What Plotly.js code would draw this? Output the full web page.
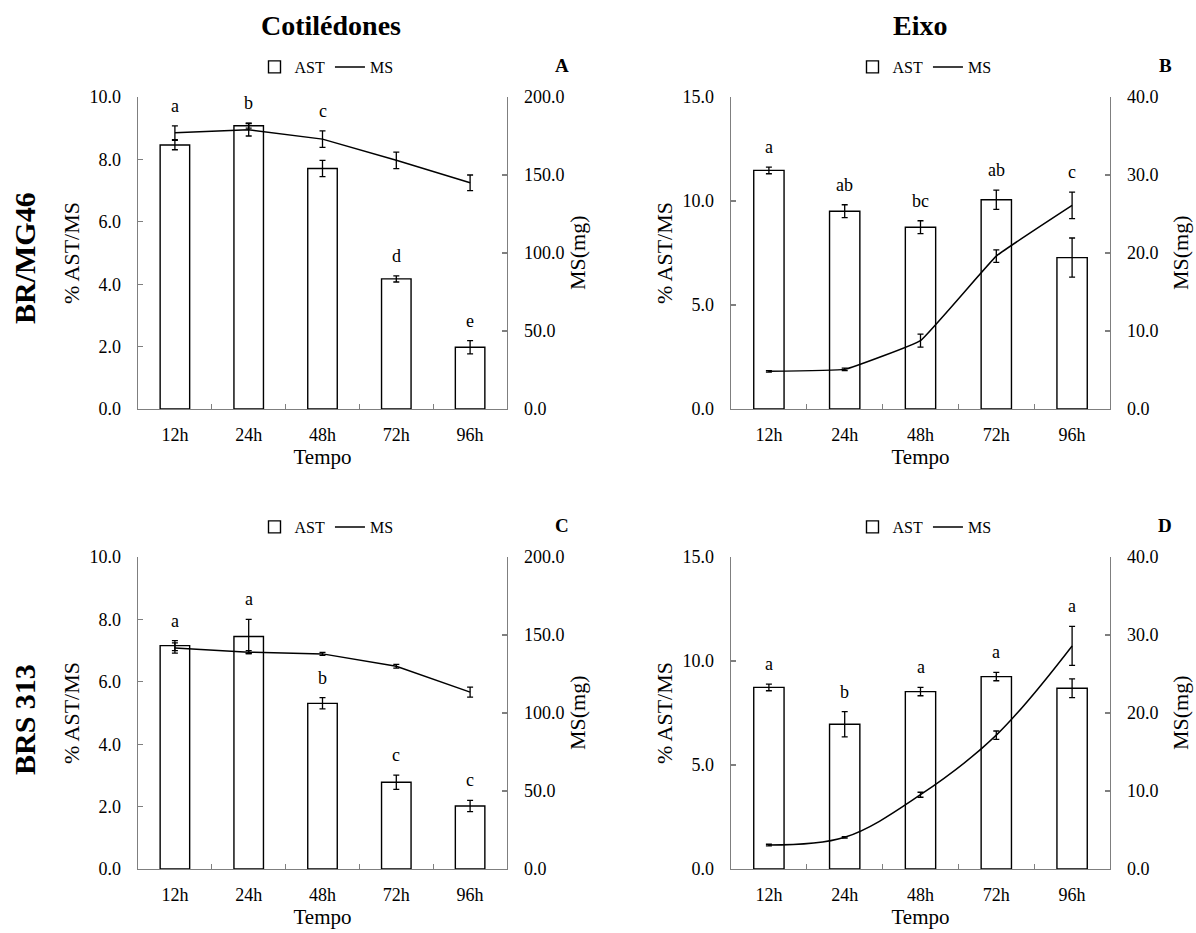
<!DOCTYPE html>
<html>
<head>
<meta charset="utf-8">
<script src="https://cdn.plot.ly/plotly-3.0.1.min.js"></script>
<style>html,body{margin:0;padding:0;background:#fff}#chart{width:1196px;height:933px}</style>
</head>
<body>
<div id="chart"></div>
<script>
// ---------- data ----------
const times = ['12h', '24h', '48h', '72h', '96h'];

// Panel A: Cotilédones, BR/MG46
const astA = [8.46, 9.08, 7.71, 4.17, 1.98];
const astErrA = [0.15, 0.08, 0.26, 0.10, 0.21];
const msA = [177.1, 179.0, 173.0, 159.4, 145.0];
const msErrA = [4.4, 4.0, 5.3, 5.3, 5.0];
const lettersA = ['a', 'b', 'c', 'd', 'e'];
const letterOnA = ['MS', 'AST', 'MS', 'AST', 'AST'];   // series the letter is written above

// Panel B: Eixo, BR/MG46
const astB = [11.47, 9.51, 8.74, 10.06, 7.28];
const astErrB = [0.16, 0.31, 0.31, 0.46, 0.94];
const msB = [4.83, 5.08, 8.77, 19.6, 26.1];
const msErrB = [0.10, 0.15, 0.83, 0.81, 1.7];
const lettersB = ['a', 'ab', 'bc', 'ab', 'c'];
const letterOnB = ['AST', 'AST', 'AST', 'AST', 'MS'];

// Panel C: Cotilédones, BRS 313
const astC = [7.16, 7.45, 5.31, 2.78, 2.02];
const astErrC = [0.16, 0.55, 0.18, 0.23, 0.18];
const msC = [141.7, 139.0, 137.9, 130.0, 113.4];
const msErrC = [3.3, 1.0, 1.0, 1.2, 3.2];
const lettersC = ['a', 'a', 'b', 'c', 'c'];
const letterOnC = ['AST', 'AST', 'AST', 'AST', 'AST'];

// Panel D: Eixo, BRS 313
const astD = [8.73, 6.96, 8.53, 9.25, 8.69];
const astErrD = [0.16, 0.61, 0.20, 0.20, 0.45];
const msD = [3.07, 4.06, 9.52, 17.16, 28.6];
const msErrD = [0.10, 0.10, 0.32, 0.53, 2.5];
const lettersD = ['a', 'b', 'a', 'a', 'a'];
const letterOnD = ['AST', 'AST', 'AST', 'AST', 'MS'];

const columnTitles = ['Cotilédones', 'Eixo'];
const rowTitles = ['BR/MG46', 'BRS 313'];
const panelLabels = ['A', 'B', 'C', 'D'];

// ---------- layout helpers ----------
const W = 1196, H = 933;
const FONT = 'Liberation Serif, Times New Roman, serif';
const AXC = '#7f7f7f';
const px = v => v / W;
const py = v => 1 - v / H;

const panels = [
  {ast: astA, astErr: astErrA, ms: msA, msErr: msErrA, letters: lettersA, on: letterOnA, lmax: 10, ldt: 2, rmax: 200, rdt: 50, x0: 138, x1: 507, y0: 97, y1: 409, shape: 'linear'},
  {ast: astB, astErr: astErrB, ms: msB, msErr: msErrB, letters: lettersB, on: letterOnB, lmax: 15, ldt: 5, rmax: 40, rdt: 10, x0: 731, x1: 1110, y0: 97, y1: 409, shape: 'spline', smooth: 0.25},
  {ast: astC, astErr: astErrC, ms: msC, msErr: msErrC, letters: lettersC, on: letterOnC, lmax: 10, ldt: 2, rmax: 200, rdt: 50, x0: 138, x1: 507, y0: 557, y1: 869, shape: 'linear'},
  {ast: astD, astErr: astErrD, ms: msD, msErr: msErrD, letters: lettersD, on: letterOnD, lmax: 15, ldt: 5, rmax: 40, rdt: 10, x0: 731, x1: 1110, y0: 557, y1: 869, shape: 'spline', smooth: 1}
];

const data = [];
const layout = {
  width: W, height: H,
  margin: {l: 0, r: 0, t: 0, b: 0},
  paper_bgcolor: '#fff', plot_bgcolor: 'rgba(0,0,0,0)',
  font: {family: FONT, color: '#000', size: 18},
  barmode: 'group',
  annotations: [],
  showlegend: true
};

panels.forEach((p, i) => {
  const n = i + 1;
  const xa = n === 1 ? 'x' : 'x' + n;
  const yl = 'y' + (2 * n - 1 === 1 ? '' : (2 * n - 1));
  const yr = 'y' + (2 * n);
  const xKey = n === 1 ? 'xaxis' : 'xaxis' + n;
  const ylKey = 'yaxis' + (2 * n - 1 === 1 ? '' : (2 * n - 1));
  const yrKey = 'yaxis' + (2 * n);
  const legKey = n === 1 ? 'legend' : 'legend' + n;

  data.push({
    type: 'bar', name: 'AST', x: times, y: p.ast,
    xaxis: xa, yaxis: yl, legend: legKey,
    width: 0.4,
    marker: {color: '#ffffff', line: {color: '#000', width: 1.4}},
    error_y: {type: 'data', array: p.astErr, visible: true, color: '#000', thickness: 1.3, width: 3}
  });
  data.push({
    type: 'scatter', mode: 'lines', name: 'MS', x: times, y: p.ms,
    xaxis: xa, yaxis: yr, legend: legKey,
    line: {color: '#000', width: 1.5, shape: p.shape, smoothing: p.smooth || 1},
    error_y: {type: 'data', array: p.msErr, visible: true, color: '#000', thickness: 1.3, width: 3}
  });

  const xd = [px(p.x0), px(p.x1)];
  const yd = [py(p.y1), py(p.y0)];

  layout[xKey] = {
    domain: xd, anchor: yl, type: 'category',
    showline: true, linecolor: AXC, linewidth: 1.3,
    ticks: 'inside', tickson: 'boundaries', ticklen: 5, tickcolor: AXC, tickwidth: 1.3,
    showgrid: false, zeroline: false,
    tickfont: {family: FONT, size: 18, color: '#000'},
    ticklabelstandoff: 9,
    title: {text: 'Tempo', font: {family: FONT, size: 21, color: '#000'}, standoff: 4},
    range: [-0.5, 4.5]
  };
  layout[ylKey] = {
    domain: yd, anchor: xa, range: [0, p.lmax], dtick: p.ldt, tick0: 0,
    tickformat: '.1f',
    showline: true, linecolor: AXC, linewidth: 1.3,
    ticks: 'inside', ticklen: 5, tickcolor: AXC, tickwidth: 1.3,
    showgrid: false, zeroline: false,
    tickfont: {family: FONT, size: 18, color: '#000'},
    ticklabelstandoff: 12,
    title: {text: '% AST/MS', font: {family: FONT, size: 22, color: '#000'}, standoff: 4}
  };
  layout[yrKey] = {
    domain: yd, anchor: xa, overlaying: yl, side: 'right',
    range: [0, p.rmax], dtick: p.rdt, tick0: 0, tickformat: '.1f',
    showline: true, linecolor: AXC, linewidth: 1.3,
    ticks: 'inside', ticklen: 5, tickcolor: AXC, tickwidth: 1.3,
    showgrid: false, zeroline: false,
    tickfont: {family: FONT, size: 18, color: '#000'},
    ticklabelstandoff: 12
  };
  layout[legKey] = {
    orientation: 'h', x: px((p.x0 + p.x1) / 2 + 4), xanchor: 'center',
    y: py(p.y0 - 30), yanchor: 'middle',
    font: {family: FONT, size: 16, color: '#000'},
    bgcolor: 'rgba(0,0,0,0)', itemwidth: 30, tracegroupgap: 0,
    traceorder: 'normal'
  };

  // right axis title
  layout.annotations.push({
    xref: 'paper', yref: 'paper', x: px(p.x1 + 70), y: py((p.y0 + p.y1) / 2),
    text: 'MS(mg)', textangle: -90, showarrow: false,
    font: {family: FONT, size: 22, color: '#000'}, xanchor: 'center', yanchor: 'middle'
  });

  // panel label
  layout.annotations.push({
    xref: 'paper', yref: 'paper', x: px(p.x1 + 55), y: py(p.y0 - 32),
    text: '<b>' + panelLabels[i] + '</b>', showarrow: false,
    font: {family: FONT, size: 19, color: '#000'}, xanchor: 'center', yanchor: 'middle'
  });

  // significance letters above the series named in letterOn
  const ratio = p.lmax / p.rmax;
  p.letters.forEach((l, k) => {
    const top = p.on[k] === 'MS' ? (p.ms[k] + p.msErr[k]) * ratio : p.ast[k] + p.astErr[k];
    layout.annotations.push({
      xref: xa, yref: yl, x: times[k], y: top,
      text: l, showarrow: false, yshift: 20,
      font: {family: FONT, size: 18, color: '#000'}, xanchor: 'center', yanchor: 'middle'
    });
  });
});

// column titles
[331, 920].forEach((cx, j) => {
  layout.annotations.push({
    xref: 'paper', yref: 'paper', x: px(cx), y: py(25),
    text: '<b>' + columnTitles[j] + '</b>', showarrow: false,
    font: {family: FONT, size: 28, color: '#000'}, xanchor: 'center', yanchor: 'middle'
  });
});
// row titles
[258, 720].forEach((cy, j) => {
  layout.annotations.push({
    xref: 'paper', yref: 'paper', x: px(24), y: py(cy),
    text: '<b>' + rowTitles[j] + '</b>', textangle: -90, showarrow: false,
    font: {family: FONT, size: 30, color: '#000'}, xanchor: 'center', yanchor: 'middle'
  });
});

Plotly.newPlot('chart', data, layout, {staticPlot: true, displayModeBar: false});
</script>
</body>
</html>
